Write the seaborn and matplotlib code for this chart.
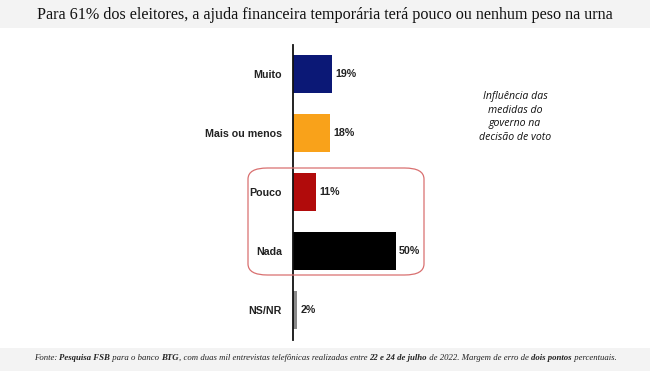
import matplotlib
matplotlib.use("Agg")
import matplotlib.pyplot as plt
import seaborn as sns
import pandas as pd
from matplotlib.patches import FancyBboxPatch, Rectangle

categories = ["Muito", "Mais ou menos", "Pouco", "Nada", "NS/NR"]
values = [19, 18, 11, 50, 2]
value_labels = ["19%", "18%", "11%", "50%", "2%"]
colors = ["#0b1876", "#f9a21a", "#b10b0b", "#000000", "#8a8a8a"]
title = "Para 61% dos eleitores, a ajuda financeira temporária terá pouco ou nenhum peso na urna"
note = "Influência das\nmedidas do\ngoverno na\ndecisão de voto"
footer_parts = [("Fonte: ", "normal"), ("Pesquisa FSB", "bold"), (" para o banco ", "normal"),
                ("BTG", "bold"), (", com duas mil entrevistas telefônicas realizadas entre ", "normal"),
                ("22 e 24 de julho", "bold"), (" de 2022. Margem de erro de ", "normal"),
                ("dois pontos", "bold"), (" percentuais.", "normal")]

sns.set_theme(style="white")
plt.rcParams['font.family'] = ['Liberation Sans', 'DejaVu Sans']

W, H = 650, 371
fig = plt.figure(figsize=(6.5, 3.71), dpi=100)
fig.patch.set_facecolor("white")

# header / footer bands
fig.add_artist(Rectangle((0, 1 - 28 / H), 1, 28 / H, transform=fig.transFigure,
                         facecolor="#f3f3f3", edgecolor="none", zorder=0))
fig.add_artist(Rectangle((0, 0), 1, 23 / H, transform=fig.transFigure,
                         facecolor="#f3f3f3", edgecolor="none", zorder=0))

ax = fig.add_axes([293 / W, (H - 339.5) / H, 123 / W, 295 / H])
df = pd.DataFrame({"cat": categories, "val": values})
sns.barplot(data=df, x="val", y="cat", hue="cat", palette=colors, legend=False,
            width=0.65, ax=ax, saturation=1, edgecolor="none")
ax.set_xlim(0, 60)
ax.set_ylim(4.5, -0.5)
ax.set_xlabel("")
ax.set_ylabel("")
ax.set_xticks([])
ax.tick_params(axis="y", length=0, pad=8)
for lab in ax.get_yticklabels():
    lab.set_fontweight("bold")
    lab.set_fontsize(7.7)
    lab.set_color("#222222")
for s in ["top", "right", "bottom"]:
    ax.spines[s].set_visible(False)
ax.spines["left"].set_color("#111111")
ax.spines["left"].set_linewidth(1.3)
ax.patch.set_alpha(0)

for i, (v, t) in enumerate(zip(values, value_labels)):
    ax.text(v + 1.8, i, t, va="center", ha="left", fontsize=7.7, fontweight="bold", color="#222222")

# rounded highlight box
box = FancyBboxPatch((248 / W, (H - 275) / H), (424 - 248) / W, (275 - 168) / H,
                     boxstyle="round,pad=0,rounding_size=0.03", transform=fig.transFigure,
                     facecolor="none", edgecolor="#d97070", linewidth=0.9, zorder=5)
fig.add_artist(box)

fig.text(515 / W, 1 - 117 / H, note, ha="center", va="center", fontsize=7.6,
         style="italic", family=["Open Sans", "DejaVu Sans"], color="#111111", linespacing=1.3)

fig.text(0.5, 1 - 15 / H, title, ha="center", va="center", fontsize=11.6,
         family=["Liberation Serif", "DejaVu Serif"], color="#111111")

# footer with mixed bold
fig.canvas.draw()
renderer = fig.canvas.get_renderer()
texts = []
for s, w in footer_parts:
    t = fig.text(0, 1 - 358 / H, s, ha="left", va="center", fontsize=6.3, style="italic",
                 fontweight=w, family=["Liberation Serif", "DejaVu Serif"], color="#222222")
    texts.append(t)
widths = []
for t in texts:
    bb = t.get_window_extent(renderer=renderer)
    widths.append(bb.width)
total = sum(widths)
x = (W - total) / 2
for t, w in zip(texts, widths):
    t.set_x(x / W)
    x += w

fig.savefig("out.png", dpi=100, facecolor="white")
